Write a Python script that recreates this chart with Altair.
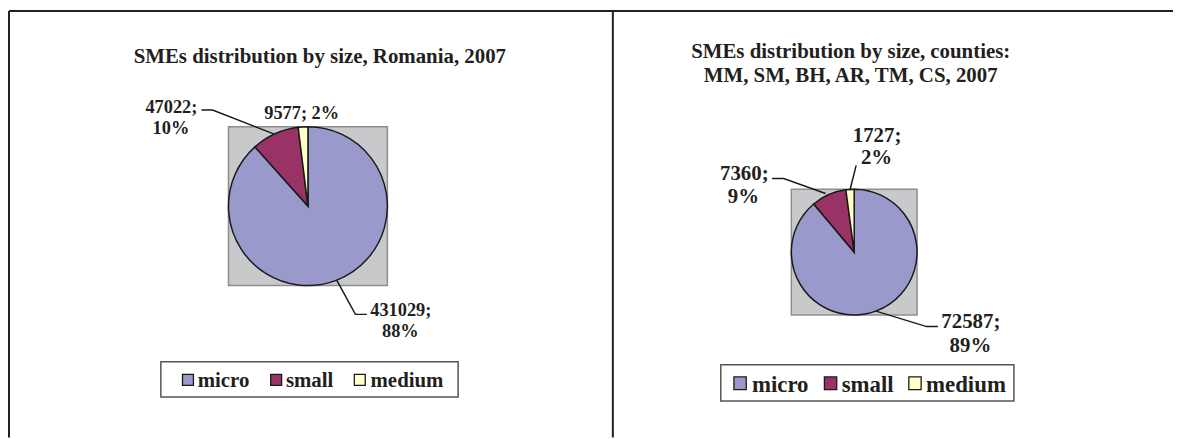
import altair as alt
import pandas as pd

# ---------------- data ----------------
sizes = ["micro", "small", "medium"]
romania_values = [431029, 47022, 9577]
romania_pct = [88, 10, 2]
counties_values = [72587, 7360, 1727]
counties_pct = [89, 9, 2]
title_left = ["SMEs distribution by size, Romania, 2007"]
title_right = ["SMEs distribution by size, counties:", "MM, SM, BH, AR, TM, CS, 2007"]

# ---------------- style / layout ----------------
colors = ["#9999CC", "#993366", "#FFFFCC"]
FONT = "Liberation Serif"
OFF = 8            # page margin
W, H = 1173, 431   # drawing area


def p(v):
    return v - OFF


color_scale = alt.Scale(domain=sizes, range=colors)
dummy = pd.DataFrame({"a": [0]})

layout = {
    "left": {
        "cx": 310, "cy": 206, "r": 80,
        "title_x": 322, "title_y": [62],
        "label_font": 18.5,
        "labels": {"micro": [(403.5, 317), (403, 337.5)],
                   "small": [(172.5, 112), (172, 133)],
                   "medium": [(303.7, 118.5)]},
        "leaders": [[(338.7, 280), (357.8, 315), (369.3, 315)],
                    [(202.8, 109.3), (214, 109.3), (275.5, 133.3)]],
        "legend_box": (161.9, 362.7, 461.2, 398.3),
        "swatch_x": [183.7, 272.5, 356.7], "swatch_w": 11, "swatch_y": (375.5, 386.5),
        "text_x": [199, 287.8, 373], "text_y": 388, "legend_font": 21,
    },
    "right": {
        "cx": 860, "cy": 252.3, "r": 63.3,
        "title_x": 856.5, "title_y": [57, 81],
        "label_font": 21,
        "labels": {"micro": [(977.5, 329), (977, 353)],
                   "small": [(749.4, 179.5), (748.5, 203)],
                   "medium": [(883, 141), (882.5, 164)]},
        "leaders": [[(882, 311.7), (933, 327.3), (944.3, 327.3)],
                    [(777.3, 178.3), (789, 178.3), (831.2, 193.3)],
                    [(862, 165), (855.7, 190)]],
        "legend_box": (725.7, 365.7, 1020.8, 402.3),
        "swatch_x": [738.9, 830, 915], "swatch_w": 12.4, "swatch_y": (378, 390.7),
        "text_x": [757, 847.4, 932.3], "text_y": 393, "legend_font": 23,
    },
}


def rect_value(x1, y1, x2, y2, **kw):
    return alt.Chart(dummy).mark_rect(**kw).encode(
        x=alt.value(p(x1)), x2=alt.value(p(x2)), y=alt.value(p(y1)), y2=alt.value(p(y2)))


def rule_value(x1, y1, x2, y2, **kw):
    return alt.Chart(dummy).mark_rule(**kw).encode(
        x=alt.value(p(x1)), x2=alt.value(p(x2)), y=alt.value(p(y1)), y2=alt.value(p(y2)))


def panel(values, pct, titles, L, single_line_medium):
    layers = []
    # title
    tdf = pd.DataFrame({"t": titles, "x": [p(L["title_x"])] * len(titles),
                        "y": [p(v) for v in L["title_y"]]})
    layers.append(alt.Chart(tdf).mark_text(font=FONT, fontWeight="bold", fontSize=21,
                                           align="center", baseline="alphabetic",
                                           color="#231f20").encode(
        x=alt.X("x:Q", scale=None), y=alt.Y("y:Q", scale=None), text="t:N"))
    # plot area
    cx, cy, r = L["cx"], L["cy"], L["r"]
    layers.append(rect_value(cx - r, cy - r, cx + r, cy + r, fill="#C8C9CB",
                             stroke="#8E8E8E", strokeWidth=1.5))
    # pie
    pdf = pd.DataFrame({"size": sizes, "value": values, "order": list(range(len(sizes)))})
    layers.append(alt.Chart(pdf).mark_arc(radius=r, stroke="#1a1a1a", strokeWidth=1.5).encode(
        theta=alt.Theta("value:Q", stack=True),
        order=alt.Order("order:Q"),
        color=alt.Color("size:N", scale=color_scale, legend=None),
        x=alt.value(p(cx)), y=alt.value(p(cy))))
    # leader lines
    rows = []
    for i, line in enumerate(L["leaders"]):
        for j, (x, y) in enumerate(line):
            rows.append({"id": i, "k": j, "x": p(x), "y": p(y)})
    layers.append(alt.Chart(pd.DataFrame(rows)).mark_line(color="#1a1a1a", strokeWidth=1.5).encode(
        x=alt.X("x:Q", scale=None), y=alt.Y("y:Q", scale=None),
        detail="id:N", order="k:Q"))
    # data labels
    rows = []
    for s, v, pc in zip(sizes, values, pct):
        pos = L["labels"][s]
        if len(pos) == 1:
            lines = [f"{v}; {pc}%"]
        else:
            lines = [f"{v};", f"{pc}%"]
        for (x, y), t in zip(pos, lines):
            rows.append({"t": t, "x": p(x), "y": p(y)})
    layers.append(alt.Chart(pd.DataFrame(rows)).mark_text(
        font=FONT, fontWeight="bold", fontSize=L["label_font"], align="center",
        baseline="alphabetic", color="#231f20").encode(
        x=alt.X("x:Q", scale=None), y=alt.Y("y:Q", scale=None), text="t:N"))
    # legend box
    bx1, by1, bx2, by2 = L["legend_box"]
    layers.append(rect_value(bx1, by1, bx2, by2, fill="white", stroke="#555555", strokeWidth=1.5))
    sw = L["swatch_w"]
    sy1, sy2 = L["swatch_y"]
    ldf = pd.DataFrame({"size": sizes,
                        "x": [p(x) for x in L["swatch_x"]],
                        "x2": [p(x + sw) for x in L["swatch_x"]],
                        "tx": [p(x) for x in L["text_x"]]})
    layers.append(alt.Chart(ldf).mark_rect(stroke="#1a1a1a", strokeWidth=1.3).encode(
        x=alt.X("x:Q", scale=None), x2="x2:Q",
        y=alt.value(p(sy1)), y2=alt.value(p(sy2)),
        color=alt.Color("size:N", scale=color_scale, legend=None)))
    layers.append(alt.Chart(ldf).mark_text(
        font=FONT, fontWeight="bold", fontSize=L["legend_font"], align="left",
        baseline="alphabetic", color="#231f20").encode(
        x=alt.X("tx:Q", scale=None), y=alt.value(p(L["text_y"])), text="size:N"))
    return layers


layers = []
# frame lines
layers.append(rule_value(9, 9.5, 1181, 9.5, color="#231f20", strokeWidth=2))
layers.append(rule_value(9, 9.5, 9, 439, color="#231f20", strokeWidth=2))
layers.append(rule_value(617, 9.5, 617, 439, color="#231f20", strokeWidth=2))

layers += panel(romania_values, romania_pct, title_left, layout["left"], True)
layers += panel(counties_values, counties_pct, title_right, layout["right"], False)

chart = alt.layer(*layers).properties(
    width=W, height=H, padding=0,
    autosize=alt.AutoSizeParams(type="none"),
    background="white",
).resolve_scale(theta="independent").configure_view(stroke=None)

chart.save("out.html", embed_options={"renderer": "svg", "actions": False})
